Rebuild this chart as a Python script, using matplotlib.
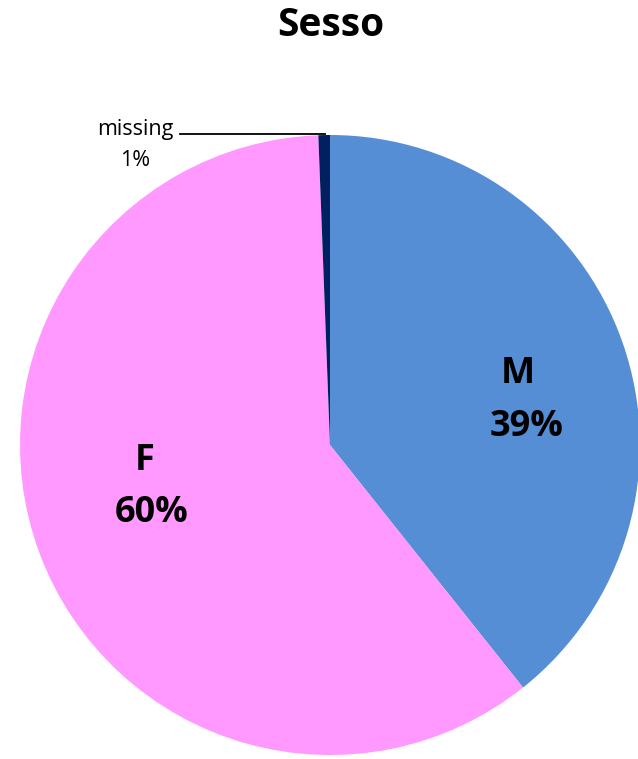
import matplotlib.pyplot as plt

# Sesso - pie data
categories = ['M', 'F', 'missing']
values = [39.3, 60.1, 0.6]
pct_labels = ['39%', '60%', '1%']
colors = ['#558ED5', '#FF99FF', '#002060']

fig = plt.figure(figsize=(6.38, 7.59), dpi=100)
ax = fig.add_axes([0, 0, 1, 1])

# pie centred in pixel coordinates (y measured from bottom)
cx, cy, r = 330, 759 - 445, 310
ax.pie(values, colors=colors, startangle=90, counterclock=False,
       center=(cx, cy), radius=r, frame=True,
       wedgeprops=dict(linewidth=0))
ax.set_xlim(0, 638)
ax.set_ylim(0, 759)
ax.set_aspect('equal')
ax.axis('off')

bold = dict(family='Open Sans', fontweight='bold', fontsize=26,
            ha='center', va='center', color='black')

ax.text(331, 759 - 25, 'Sesso', **dict(bold, fontsize=28))

# M label
ax.text(518, 759 - 374, categories[0], **bold)
ax.text(527, 759 - 427, pct_labels[0], **bold)
# F label
ax.text(145, 759 - 461, categories[1], **bold)
ax.text(152, 759 - 513, pct_labels[1], **bold)

# missing label with leader line
reg = dict(family='Open Sans', fontsize=15.5, ha='center', va='center',
           color='black')
ax.text(135, 759 - 129, categories[2], **reg)
ax.text(135, 759 - 160, pct_labels[2], **reg)
ax.plot([180, 325], [759 - 134, 759 - 134], color='black', lw=1.3)

fig.savefig('out.png', dpi=100)
plt.close()
